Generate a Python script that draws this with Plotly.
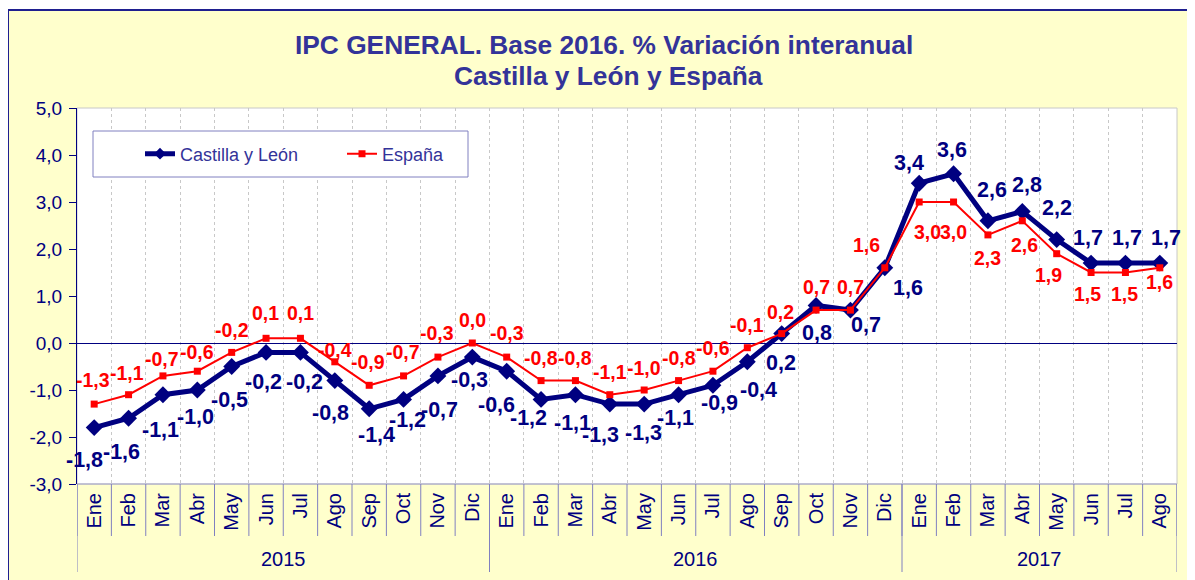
import plotly.graph_objects as go

# ---------------- data ----------------
years = ["2015"] * 12 + ["2016"] * 12 + ["2017"] * 8
months = ["Ene", "Feb", "Mar", "Abr", "May", "Jun", "Jul", "Ago", "Sep", "Oct", "Nov", "Dic",
          "Ene", "Feb", "Mar", "Abr", "May", "Jun", "Jul", "Ago", "Sep", "Oct", "Nov", "Dic",
          "Ene", "Feb", "Mar", "Abr", "May", "Jun", "Jul", "Ago"]
castilla = [-1.8, -1.6, -1.1, -1.0, -0.5, -0.2, -0.2, -0.8, -1.4, -1.2, -0.7, -0.3,
            -0.6, -1.2, -1.1, -1.3, -1.3, -1.1, -0.9, -0.4, 0.2, 0.8, 0.7, 1.6,
            3.4, 3.6, 2.6, 2.8, 2.2, 1.7, 1.7, 1.7]
espana = [-1.3, -1.1, -0.7, -0.6, -0.2, 0.1, 0.1, -0.4, -0.9, -0.7, -0.3, 0.0,
          -0.3, -0.8, -0.8, -1.1, -1.0, -0.8, -0.6, -0.1, 0.2, 0.7, 0.7, 1.6,
          3.0, 3.0, 2.3, 2.6, 1.9, 1.5, 1.5, 1.6]
y_ticks = [-3, -2, -1, 0, 1, 2, 3, 4, 5]
series_names = ["Castilla y León", "España"]
title_lines = ["IPC GENERAL. Base 2016. % Variación interanual", "Castilla y León y España"]

# label offsets in pixels (dx right, dy down) -- styling only
cyl_dx = [-10, -7, -2, -2, -2, -3, 4, -4, 7, 4, 2, -3, -10, -13, -3, -9, -1, -3, 7, 11, -1, 1, 16, 23,
          -10, -2, 4, 5, 0, -3, 2, 6]
cyl_dy = [32, 34, 35, 27, 33, 30, 30, 32, 26, 21, 34, 23, 34, 19, 28, 31, 29, 23, 18, 28, 29, 28, 15, 20,
          -20, -24, -31, -26, -32, -25, -25, -25]
esp_dx = [-1, -2, -1, 0, 0, -1, 0, 0, -1, -1, -1, 0, 0, 0, 0, 0, 0, 0, 0, 0, -1, 0, 0, -18,
          8, 0, 0, 2, -8, -4, -1, 0]
esp_dy = [-24, -22, -17, -19, -22, -25, -25, -12, -23, -24, -24, -23, -24, -23, -23, -23, -22, -23, -23, -23,
          -22, -23, -23, -23, 30, 30, 23, 24, 21, 21, 21, 14]


def fmt(v):
    return f"{v:.1f}".replace(".", ",")


NAVY = "#000080"
TITLE = "#333399"
RED = "#FF0000"
SEP = "#8080C0"
BG = "#FFFFCC"
FONT = "Arial, Liberation Sans, sans-serif"

x = list(range(len(months)))

# geometry: the page body has an 8px margin, so the figure is 8px smaller
OFF = 8
SCR_W, SCR_H = 1195, 580
PL, PR, PT, PB = 77, 1177, 108, 484          # plot area in screen px
W, H = SCR_W - OFF, SCR_H - OFF
ML, MT = PL - OFF, PT - OFF
MR, MB = SCR_W - PR, SCR_H - PB
PW, PH = PR - PL, PB - PT


def px_x(p):
    return (p - PL) / PW


def px_y(p):
    return (PB - p) / PH


fig = go.Figure()

fig.add_trace(go.Scatter(
    x=x, y=castilla, mode="lines+markers", name=series_names[0], showlegend=False,
    line=dict(color=NAVY, width=5),
    marker=dict(symbol="diamond", size=13, color=NAVY), cliponaxis=False))
fig.add_trace(go.Scatter(
    x=x, y=espana, mode="lines+markers", name=series_names[1], showlegend=False,
    line=dict(color=RED, width=2),
    marker=dict(symbol="square", size=7, color=RED), cliponaxis=False))

# legend entries
fig.add_trace(go.Scatter(
    x=[None], y=[None], mode="lines+markers", name=series_names[0],
    line=dict(color=NAVY, width=5), marker=dict(symbol="diamond", size=9, color=NAVY)))
fig.add_trace(go.Scatter(
    x=[None], y=[None], mode="lines+markers", name=series_names[1],
    line=dict(color=RED, width=2), marker=dict(symbol="square", size=7, color=RED)))

annotations = []
for i, v in enumerate(castilla):
    annotations.append(dict(
        x=x[i], y=v, xref="x", yref="y", text=fmt(v),
        showarrow=False, xshift=cyl_dx[i], yshift=-cyl_dy[i], xanchor="center", yanchor="middle",
        font=dict(family=FONT, size=21.5, color=NAVY, weight="bold")))
for i, v in enumerate(espana):
    annotations.append(dict(
        x=x[i], y=v, xref="x", yref="y", text=fmt(v),
        showarrow=False, xshift=esp_dx[i], yshift=-esp_dy[i], xanchor="center", yanchor="middle",
        font=dict(family=FONT, size=19.5, color=RED, weight="bold")))

# titles
annotations.append(dict(x=px_x(604), y=px_y(45), xref="paper", yref="paper", text=f"<b>{title_lines[0]}</b>",
                        showarrow=False, xanchor="center", yanchor="middle",
                        font=dict(family=FONT, size=26.3, color=TITLE)))
annotations.append(dict(x=px_x(608), y=px_y(76), xref="paper", yref="paper", text=f"<b>{title_lines[1]}</b>",
                        showarrow=False, xanchor="center", yanchor="middle",
                        font=dict(family=FONT, size=26.3, color=TITLE)))

# frame, plot area, legend box
shapes = [
    dict(type="rect", xref="paper", yref="paper", x0=px_x(8), x1=px_x(1240), y0=px_y(640), y1=px_y(10),
         fillcolor=BG, line=dict(color="#1F1F8F", width=2), layer="below"),
    dict(type="rect", xref="paper", yref="paper", x0=0, x1=1, y0=0, y1=1,
         fillcolor="white", line=dict(color="#C8C8C8", width=1), layer="below"),
    dict(type="line", xref="paper", yref="paper", x0=0, x1=1, y0=0, y1=0,
         line=dict(color="#A0A0C8", width=1), layer="above"),
    dict(type="rect", xref="paper", yref="paper", x0=px_x(93), x1=px_x(468), y0=px_y(177), y1=px_y(131),
         fillcolor="white", line=dict(color=SEP, width=1), layer="above"),
    # clean band between the month row and the year row
    dict(type="rect", xref="paper", yref="paper", x0=px_x(70), x1=px_x(1190), y0=px_y(549), y1=px_y(537),
         fillcolor=BG, line=dict(width=0), layer="above"),
]

# month separators (category boundaries) below the axis
for i in range(len(x) + 1):
    shapes.append(dict(type="line", xref="x", yref="paper", x0=i - 0.5, x1=i - 0.5, y0=0, y1=px_y(536),
                       line=dict(color=SEP, width=1), layer="above"))

# year labels and year separators
year_order = []
for yv in years:
    if yv not in year_order:
        year_order.append(yv)
bounds = [-0.5]
for yv in year_order:
    idx = [i for i, yy in enumerate(years) if yy == yv]
    annotations.append(dict(x=sum(idx) / len(idx), y=px_y(559), xref="x", yref="paper", text=yv,
                            showarrow=False, xanchor="center", yanchor="middle",
                            font=dict(family=FONT, size=20, color=NAVY)))
    bounds.append(idx[-1] + 0.5)
for b in bounds:
    shapes.append(dict(type="line", xref="x", yref="paper", x0=b, x1=b, y0=0, y1=px_y(572),
                       line=dict(color=SEP, width=1), layer="above"))

fig.update_layout(
    width=W, height=H,
    margin=dict(l=ML, r=MR, t=MT, b=MB, pad=0),
    paper_bgcolor="white", plot_bgcolor="rgba(0,0,0,0)",
    separators=",.",
    font=dict(family=FONT, color=NAVY),
    showlegend=True,
    legend=dict(orientation="h", x=px_x(140), xanchor="left", y=px_y(154), yanchor="middle",
                bgcolor="rgba(0,0,0,0)", borderwidth=0, entrywidth=157, entrywidthmode="pixels",
                font=dict(family=FONT, size=18, color=TITLE)),
    annotations=annotations,
    shapes=shapes,
    xaxis=dict(
        range=[-0.5, len(x) - 0.5], tickmode="array", tickvals=x, ticktext=months,
        tickangle=-90, ticks="", showgrid=False, zeroline=False,
        tickfont=dict(family=FONT, size=20, color=NAVY), ticklabelstandoff=4,
        showline=False,
        minor=dict(tickmode="array", tickvals=[b - 0.5 for b in range(len(x) + 1)],
                   showgrid=True, gridcolor="#C8C8C8", griddash="dot", gridwidth=1, ticks=""),
    ),
    yaxis=dict(
        range=[-3, 5], tickmode="array", tickvals=y_ticks, ticktext=[fmt(v) for v in y_ticks],
        showgrid=False, zeroline=True, zerolinecolor=NAVY, zerolinewidth=1,
        showline=True, linecolor=NAVY, linewidth=1,
        ticks="outside", ticklen=7, tickcolor=NAVY,
        tickfont=dict(family=FONT, size=19, color=NAVY), ticklabelstandoff=3,
    ),
)

fig.write_html("out.html")
